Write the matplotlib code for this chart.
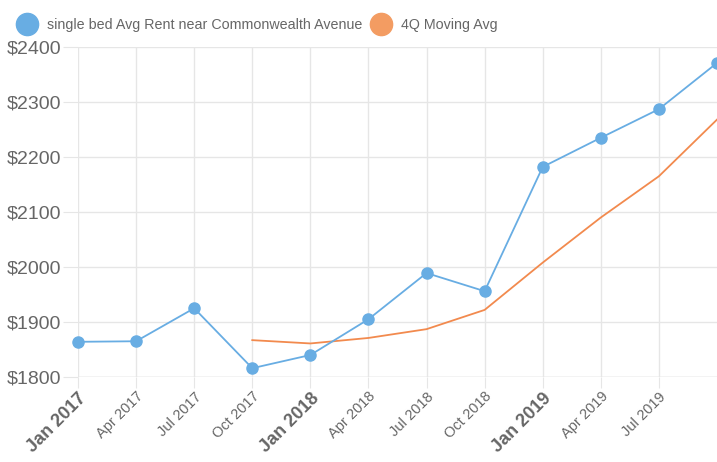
import matplotlib.pyplot as plt
from matplotlib.lines import Line2D

plt.rcParams['font.family'] = ['Liberation Sans', 'DejaVu Sans']

quarters = ['Jan 2017', 'Apr 2017', 'Jul 2017', 'Oct 2017',
            'Jan 2018', 'Apr 2018', 'Jul 2018', 'Oct 2018',
            'Jan 2019', 'Apr 2019', 'Jul 2019', 'Oct 2019']
rent = [1864, 1865, 1925, 1816, 1840, 1905, 1989, 1956, 2182, 2235, 2287, 2371]
# moving average starts at Oct 2017
ma_quarters = quarters[3:]
moving_avg = [1867, 1861, 1871, 1887, 1922, 2008, 2090, 2165, 2268]
yticks = [1800, 1900, 2000, 2100, 2200, 2300, 2400]

blue = '#68ade3'
orange = '#f28a4e'
grey = '#666666'

fig = plt.figure(figsize=(7.17, 4.62), dpi=100)
ax = fig.add_axes([78 / 717, 85 / 462, 1 - 78 / 717, 330 / 462])

x = list(range(len(quarters)))
ma_x = [quarters.index(q) for q in ma_quarters]

ax.plot(x, rent, color=blue, lw=1.3, marker='o', ms=8, zorder=3, clip_on=False)
ax.plot(ma_x, moving_avg, color=orange, lw=1.3, zorder=2, clip_on=False)

ax.set_xlim(0, len(quarters) - 1)
ax.set_ylim(1800, 2400)
ax.set_yticks(yticks)
ax.set_yticklabels(['$%d' % v for v in yticks], fontsize=14, color=grey)
ax.set_xticks(x[:-1])
labels = ax.set_xticklabels(quarters[:-1], rotation=45, ha='right',
                            rotation_mode='anchor', color=grey)
for lab in labels:
    if lab.get_text().startswith('Jan'):
        lab.set_fontsize(13)
        lab.set_fontweight('bold')
    else:
        lab.set_fontsize(10.5)

ax.grid(True, color='#e6e6e6', lw=1)
ax.tick_params(axis='x', length=8, color='#e6e6e6', pad=1)
ax.tick_params(axis='y', length=11, color='#e6e6e6', pad=1)
for s in ax.spines.values():
    s.set_visible(False)
ax.axhline(1800, color='#d8d8d8', lw=1, zorder=1)

handles = [Line2D([], [], ls='none', marker='o', ms=16, mfc=blue, mec=blue),
           Line2D([], [], ls='none', marker='o', ms=16, mfc='#f39c62', mec='#f39c62')]
fig.legend(handles, ['single bed Avg Rent near Commonwealth Avenue', '4Q Moving Avg'],
           loc='center left', bbox_to_anchor=(17 / 717, 1 - 25 / 462), ncol=2,
           frameon=False, borderpad=0, borderaxespad=0,
           fontsize=10.3, labelcolor=grey, handlelength=1.4, handletextpad=0.7,
           columnspacing=0.63)

fig.savefig('out.png', dpi=100)
